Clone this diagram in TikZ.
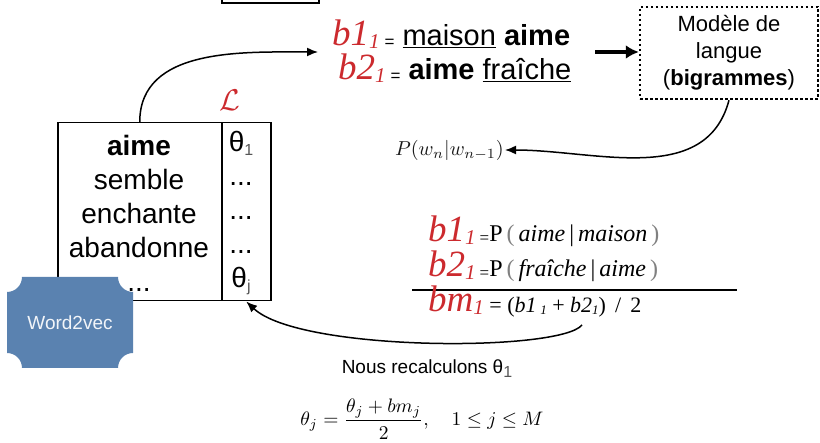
\RequirePackage{fix-cm}
\documentclass[tikz,border=0pt]{standalone}
\usepackage{graphicx}
\usepackage{fontspec}
\setmainfont{Liberation Sans}
\newfontfamily\serifrm{Liberation Serif}
\usetikzlibrary{arrows.meta}
\definecolor{myred}{HTML}{CC2A2E}
\definecolor{wblue}{HTML}{5A82B0}
\definecolor{subgray}{HTML}{555555}
\newcommand{\redb}[1]{{\color{myred}\serifrm\itshape\fontsize{37}{37}\selectfont #1}}
\newcommand{\redsub}[1]{{\color{myred}\serifrm\itshape\fontsize{21}{21}\selectfont\raisebox{-3pt}{#1}}}
\newcommand{\smalleq}{{\fontsize{17}{17}\selectfont\raisebox{-2pt}{=}}}
\newcommand{\gsub}[1]{{\color{subgray}\fontsize{16}{16}\selectfont\raisebox{-4pt}{#1}}}
\newcommand{\tsub}[1]{{\fontsize{13}{13}\selectfont\raisebox{-2pt}{\textit{#1}}}}
\tikzset{
  cell/.style={draw, line width=1.5pt, minimum height=178pt, anchor=north west, inner sep=0pt},
  coltext/.style={align=center, font=\fontsize{28}{34}\selectfont, inner sep=0pt},
  arr/.style={line width=1.5pt, -{Latex[length=11pt,width=9pt]}},
  bigarr/.style={line width=4pt, -{Latex[length=13pt,width=14pt]}},
  dotbox/.style={draw, line width=2.5pt, dash pattern=on 2.5pt off 2.5pt, minimum width=178pt, minimum height=92pt, align=center, font=\fontsize{22}{27}\selectfont},
}
\begin{document}
\begin{tikzpicture}[x=1pt,y=-1pt]
\useasboundingbox (0,0) rectangle (820,443);
\clip (0,0) rectangle (820,443);
% partial box at top
\draw[line width=1.5pt] (222,-20) rectangle (319,3);

% table
\node[cell, minimum width=164pt] (wl) at (57,122) {};
\node[cell, minimum width=49pt] (wr) at (221,122) {};
\node[coltext] (wlt) at (139,213) {\textbf{aime}\\semble\\enchante\\abandonne\\...};
\node[coltext] (wrt) at (241,213) {θ\gsub{1}\\...\\...\\...\\θ\gsub{j}};
\node[text=myred] (L) at (230,100) {\scalebox{3}{$\mathcal{L}$}};

% Word2vec shape
\fill[wblue] (22,277) -- (118,277)
  .. controls (118,285.3) and (124.7,292) .. (133,292) -- (133,353)
  .. controls (124.7,353) and (118,359.7) .. (118,368) -- (22,368)
  .. controls (22,359.7) and (15.3,353) .. (7,353) -- (7,292)
  .. controls (15.3,292) and (22,285.3) .. (22,277) -- cycle;
\node[text=white!92!wblue, font=\fontsize{19}{19}\selectfont] (w2v) at (70,323) {Word2vec};

% top bigram lines
\node[anchor=base west, inner sep=0pt, font=\fontsize{29}{29}\selectfont] (b1line) at (332,46)
  {\redb{b1}\redsub{1}\,\smalleq\ \underline{maison} \textbf{aime}};
\node[anchor=base west, inner sep=0pt, font=\fontsize{29}{29}\selectfont] (b2line) at (338,80)
  {\redb{b2}\redsub{1}\,\smalleq\ \textbf{aime} \underline{fraîche}};
\coordinate (a1end) at (318,52);
\draw[arr] (wl.north) to[out=90,in=180] (a1end);

% language model box
\node[dotbox] (mdl) at (729,53) {Modèle de\\langue\\(\textbf{bigrammes})};
\coordinate (t0) at (595,52);
\draw[bigarr] (t0) -- (t0 -| mdl.west);

% P(w_n|w_{n-1})
\node[anchor=east, inner sep=1pt, text=black!90] (pw) at (505,150) {\scalebox{2.02}{$P(w_n|w_{n-1})$}};
\draw[arr] (mdl.south) to[out=-105,in=0] (pw.east);

% probability block
\node[anchor=base west, inner sep=0pt, font=\serifrm\fontsize{24}{24}\selectfont] (p1) at (428,242)
  {\redb{b1}\redsub{1}\,\smalleq P\,{\color{gray}(}\,\textit{aime}\,|\,\textit{maison}\,{\color{gray})}};
\node[anchor=base west, inner sep=0pt, font=\serifrm\fontsize{24}{24}\selectfont] (p2) at (428,277)
  {\redb{b2}\redsub{1}\,\smalleq P\,{\color{gray}(}\,\textit{fraîche}\,|\,\textit{aime}\,{\color{gray})}};
\coordinate (h0) at (412,290);
\coordinate (h1) at (737,290);
\draw[line width=2pt] (h0) -- (h1);
\node[anchor=base west, inner sep=0pt, font=\serifrm\fontsize{22}{22}\selectfont] (p3) at (428,312)
  {\redb{bm}\redsub{1}\ \raisebox{-1pt}{= (\textit{b1}\,\tsub{1} + \textit{b2}\tsub{1}) \,/ \,2}};
\coordinate (c3) at (582,325);
\draw[arr] (c3) .. controls (560,352) and (300,352) .. (wr.south);

% recompute text
\node[font=\fontsize{19}{19}\selectfont] (nous) at (427,369) {Nous recalculons θ\gsub{1}};
\node (form) at (422,419) {\scalebox{1.95}{$\theta_j = \displaystyle\frac{\theta_j + bm_j}{2},\quad 1 \le j \le M$}};
\end{tikzpicture}
\end{document}
